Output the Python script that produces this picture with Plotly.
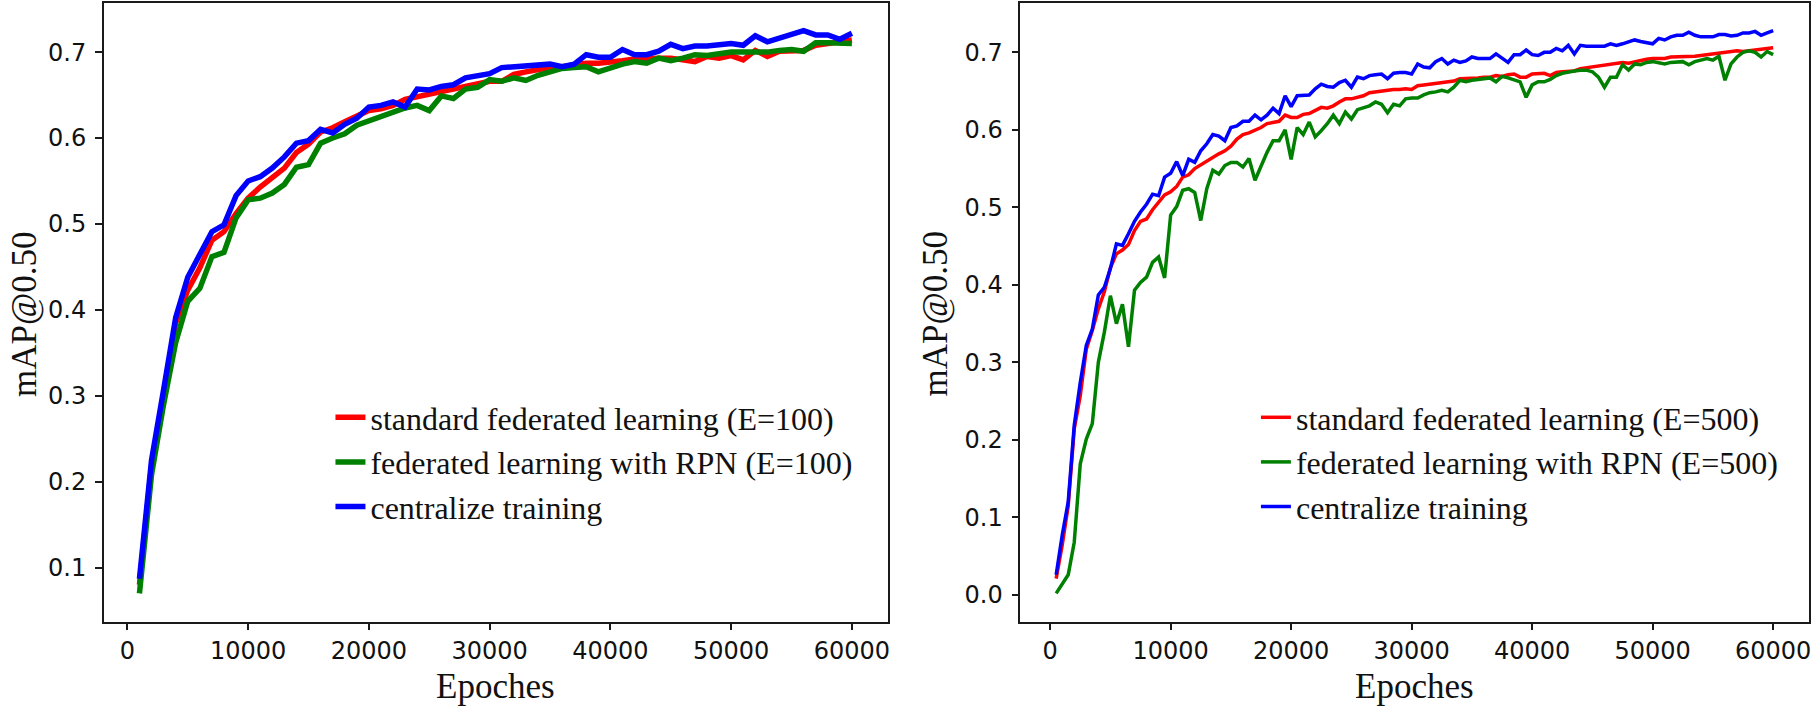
import numpy as np
import plotly.graph_objects as go

# ---- left panel: E=100, one point every 1000 epochs ----
epochs_left = list(range(1000, 60001, 1000))

std_fl_100 = [
    0.080, 0.218, 0.300, 0.385, 0.423, 0.449, 0.481, 0.491, 0.512, 0.530,
    0.543, 0.554, 0.565, 0.583, 0.593, 0.607, 0.612, 0.619, 0.625, 0.632,
    0.634, 0.638, 0.645, 0.648, 0.651, 0.654, 0.657, 0.661, 0.664, 0.666,
    0.666, 0.674, 0.677, 0.680, 0.682, 0.683, 0.685, 0.687, 0.687, 0.688,
    0.690, 0.692, 0.693, 0.693, 0.693, 0.691, 0.689, 0.695, 0.693, 0.696,
    0.691, 0.702, 0.695, 0.701, 0.702, 0.702, 0.708, 0.710, 0.712, 0.714,
]
rpn_fl_100 = [
    0.070, 0.208, 0.290, 0.362, 0.410, 0.425, 0.462, 0.467, 0.507, 0.528,
    0.530, 0.536, 0.546, 0.566, 0.569, 0.594, 0.600, 0.605, 0.615, 0.620,
    0.625, 0.629, 0.635, 0.638, 0.632, 0.649, 0.646, 0.657, 0.659, 0.668,
    0.666, 0.670, 0.667, 0.673, 0.677, 0.681, 0.682, 0.683, 0.677, 0.682,
    0.686, 0.689, 0.687, 0.693, 0.690, 0.693, 0.697, 0.696, 0.698, 0.700,
    0.700, 0.700, 0.700, 0.702, 0.703, 0.701, 0.711, 0.711, 0.710, 0.710,
]
central_left = [
    0.087, 0.225, 0.307, 0.391, 0.438, 0.465, 0.491, 0.499, 0.533, 0.550,
    0.555, 0.565, 0.578, 0.594, 0.597, 0.610, 0.606, 0.616, 0.623, 0.636,
    0.638, 0.642, 0.636, 0.657, 0.656, 0.660, 0.662, 0.670, 0.673, 0.675,
    0.682, 0.683, 0.684, 0.684, 0.686, 0.683, 0.686, 0.697, 0.694, 0.694,
    0.703, 0.697, 0.697, 0.701, 0.709, 0.704, 0.707, 0.707, 0.709, 0.710,
    0.708, 0.719, 0.712, 0.716, 0.721, 0.725, 0.720, 0.720, 0.715, 0.722,
]

# ---- right panel: E=500, one point every 500 epochs ----
epochs_right = list(range(500, 60001, 500))

std_fl_500 = [
    0.021, 0.064, 0.115, 0.214, 0.257, 0.317, 0.341, 0.369, 0.391, 0.422,
    0.440, 0.445, 0.452, 0.470, 0.482, 0.485, 0.497, 0.506, 0.516, 0.520,
    0.527, 0.539, 0.542, 0.550, 0.555, 0.560, 0.565, 0.569, 0.573, 0.579,
    0.588, 0.594, 0.596, 0.599, 0.603, 0.608, 0.610, 0.611, 0.619, 0.616,
    0.616, 0.620, 0.621, 0.625, 0.629, 0.628, 0.631, 0.636, 0.640, 0.640,
    0.642, 0.644, 0.648, 0.649, 0.651, 0.651, 0.652, 0.652, 0.653, 0.652,
    0.657, 0.658, 0.659, 0.661, 0.661, 0.662, 0.663, 0.666, 0.666, 0.667,
    0.667, 0.668, 0.668, 0.670, 0.669, 0.671, 0.672, 0.668, 0.668, 0.672,
    0.673, 0.673, 0.670, 0.674, 0.675, 0.676, 0.676, 0.679, 0.680, 0.681,
    0.682, 0.683, 0.684, 0.686, 0.687, 0.686, 0.688, 0.690, 0.691, 0.692,
    0.692, 0.692, 0.694, 0.694, 0.695, 0.695, 0.695, 0.696, 0.697, 0.698,
    0.698, 0.700, 0.701, 0.702, 0.701, 0.702, 0.702, 0.704, 0.704, 0.706,
]
rpn_fl_500 = [
    0.002, 0.015, 0.026, 0.068, 0.169, 0.201, 0.221, 0.300, 0.339, 0.386,
    0.350, 0.375, 0.320, 0.393, 0.403, 0.410, 0.429, 0.436, 0.409, 0.490,
    0.501, 0.522, 0.524, 0.519, 0.483, 0.524, 0.548, 0.543, 0.554, 0.558,
    0.558, 0.552, 0.563, 0.535, 0.554, 0.571, 0.586, 0.586, 0.600, 0.562,
    0.603, 0.594, 0.610, 0.591, 0.599, 0.608, 0.619, 0.608, 0.623, 0.614,
    0.626, 0.628, 0.631, 0.636, 0.633, 0.622, 0.633, 0.631, 0.640, 0.641,
    0.641, 0.645, 0.648, 0.649, 0.651, 0.649, 0.655, 0.664, 0.662, 0.664,
    0.665, 0.665, 0.667, 0.662, 0.669, 0.667, 0.665, 0.662, 0.642, 0.658,
    0.662, 0.662, 0.665, 0.670, 0.673, 0.675, 0.676, 0.677, 0.677, 0.675,
    0.668, 0.655, 0.668, 0.668, 0.684, 0.677, 0.685, 0.684, 0.687, 0.688,
    0.686, 0.685, 0.687, 0.687, 0.688, 0.684, 0.688, 0.690, 0.692, 0.690,
    0.695, 0.664, 0.685, 0.694, 0.700, 0.702, 0.700, 0.694, 0.701, 0.697,
]
central_right = [
    0.026, 0.077, 0.120, 0.219, 0.274, 0.322, 0.343, 0.387, 0.397, 0.421,
    0.453, 0.451, 0.466, 0.482, 0.494, 0.504, 0.517, 0.515, 0.539, 0.544,
    0.559, 0.541, 0.562, 0.558, 0.573, 0.582, 0.594, 0.592, 0.586, 0.603,
    0.605, 0.611, 0.611, 0.619, 0.613, 0.619, 0.628, 0.621, 0.644, 0.630,
    0.644, 0.644, 0.645, 0.653, 0.659, 0.656, 0.655, 0.661, 0.664, 0.655,
    0.668, 0.666, 0.670, 0.671, 0.672, 0.666, 0.673, 0.674, 0.674, 0.672,
    0.685, 0.681, 0.680, 0.688, 0.692, 0.685, 0.690, 0.687, 0.689, 0.694,
    0.692, 0.692, 0.692, 0.698, 0.692, 0.687, 0.697, 0.697, 0.703, 0.697,
    0.696, 0.700, 0.700, 0.705, 0.702, 0.709, 0.698, 0.709, 0.708, 0.708,
    0.708, 0.708, 0.711, 0.709, 0.711, 0.713, 0.716, 0.714, 0.712, 0.711,
    0.718, 0.716, 0.720, 0.722, 0.722, 0.726, 0.722, 0.720, 0.720, 0.720,
    0.723, 0.723, 0.721, 0.722, 0.725, 0.725, 0.727, 0.722, 0.725, 0.728,
]

labels_left = ["standard federated learning (E=100)",
               "federated learning with RPN (E=100)",
               "centralize training"]
labels_right = ["standard federated learning (E=500)",
                "federated learning with RPN (E=500)",
                "centralize training"]
colors = ["#ff0000", "#008000", "#0000ff"]

SERIF = "Liberation Serif"
SANS = "DejaVu Sans"


def mpl_range(*series):
    # matplotlib style 5% padding around the data
    vals = np.concatenate([np.asarray(s, dtype=float) for s in series])
    lo, hi = vals.min(), vals.max()
    pad = 0.05 * (hi - lo)
    return [lo - pad, hi + pad]


fig = go.Figure()

for name, ys, c in zip(labels_left, [std_fl_100, rpn_fl_100, central_left], colors):
    fig.add_trace(go.Scatter(x=epochs_left, y=ys, mode="lines", name=name,
                             line=dict(color=c, width=5.5), xaxis="x", yaxis="y",
                             legend="legend"))

for name, ys, c in zip(labels_right, [std_fl_500, rpn_fl_500, central_right], colors):
    fig.add_trace(go.Scatter(x=epochs_right, y=ys, mode="lines", name=name,
                             line=dict(color=c, width=3.5), xaxis="x2", yaxis="y2",
                             legend="legend2"))

axis_style = dict(showline=True, mirror=True, linecolor="#1a1a1a", linewidth=1.6,
                  ticks="outside", ticklen=7, tickwidth=1.5, tickcolor="#1a1a1a",
                  showgrid=False, zeroline=False,
                  tickfont=dict(family=SANS, size=24, color="#111"))

W, H = 1819, 709
ydom = [1 - 621.5 / H, 1 - 2.5 / H]

fig.update_layout(
    width=W, height=H,
    margin=dict(l=0, r=0, t=0, b=0),
    paper_bgcolor="white", plot_bgcolor="white",
    xaxis=dict(domain=[104 / W, 889 / W], anchor="y", range=mpl_range(epochs_left),
               dtick=10000, tickformat="d", **axis_style),
    yaxis=dict(domain=ydom, anchor="x",
               range=mpl_range(std_fl_100, rpn_fl_100, central_left),
               dtick=0.1, tickformat=".1f", ticklabelstandoff=4, **axis_style),
    xaxis2=dict(domain=[1022 / W, 1812 / W], anchor="y2", range=mpl_range(epochs_right),
                dtick=10000, tickformat="d", **axis_style),
    yaxis2=dict(domain=ydom, anchor="x2",
                range=mpl_range(std_fl_500, rpn_fl_500, central_right),
                dtick=0.1, tickformat=".1f", ticklabelstandoff=4, **axis_style),
    legend=dict(x=331 / W, y=1 - 390 / H, xanchor="left", yanchor="top",
                bgcolor="rgba(0,0,0,0)", font=dict(family=SERIF, size=32, color="#111")),
    legend2=dict(x=1258 / W, y=1 - 390 / H, xanchor="left", yanchor="top",
                 bgcolor="rgba(0,0,0,0)", font=dict(family=SERIF, size=32, color="#111")),
)

title_font = dict(family=SERIF, size=35, color="#111")
for xc in (496, 1417):
    fig.add_annotation(text="Epoches", x=xc / W, y=1 - 686 / H, xref="paper", yref="paper",
                       xanchor="center", yanchor="middle", showarrow=False, font=title_font)
for xc in (24, 937):
    fig.add_annotation(text="mAP@0.50", x=xc / W, y=1 - 314 / H, xref="paper", yref="paper",
                       xanchor="center", yanchor="middle", showarrow=False,
                       textangle=-90, font=title_font)

# the default page has an 8px body margin, drop it so the figure fills the window
fig.write_html("out.html", config={"displayModeBar": False},
               post_script="document.body.style.margin='0';")
